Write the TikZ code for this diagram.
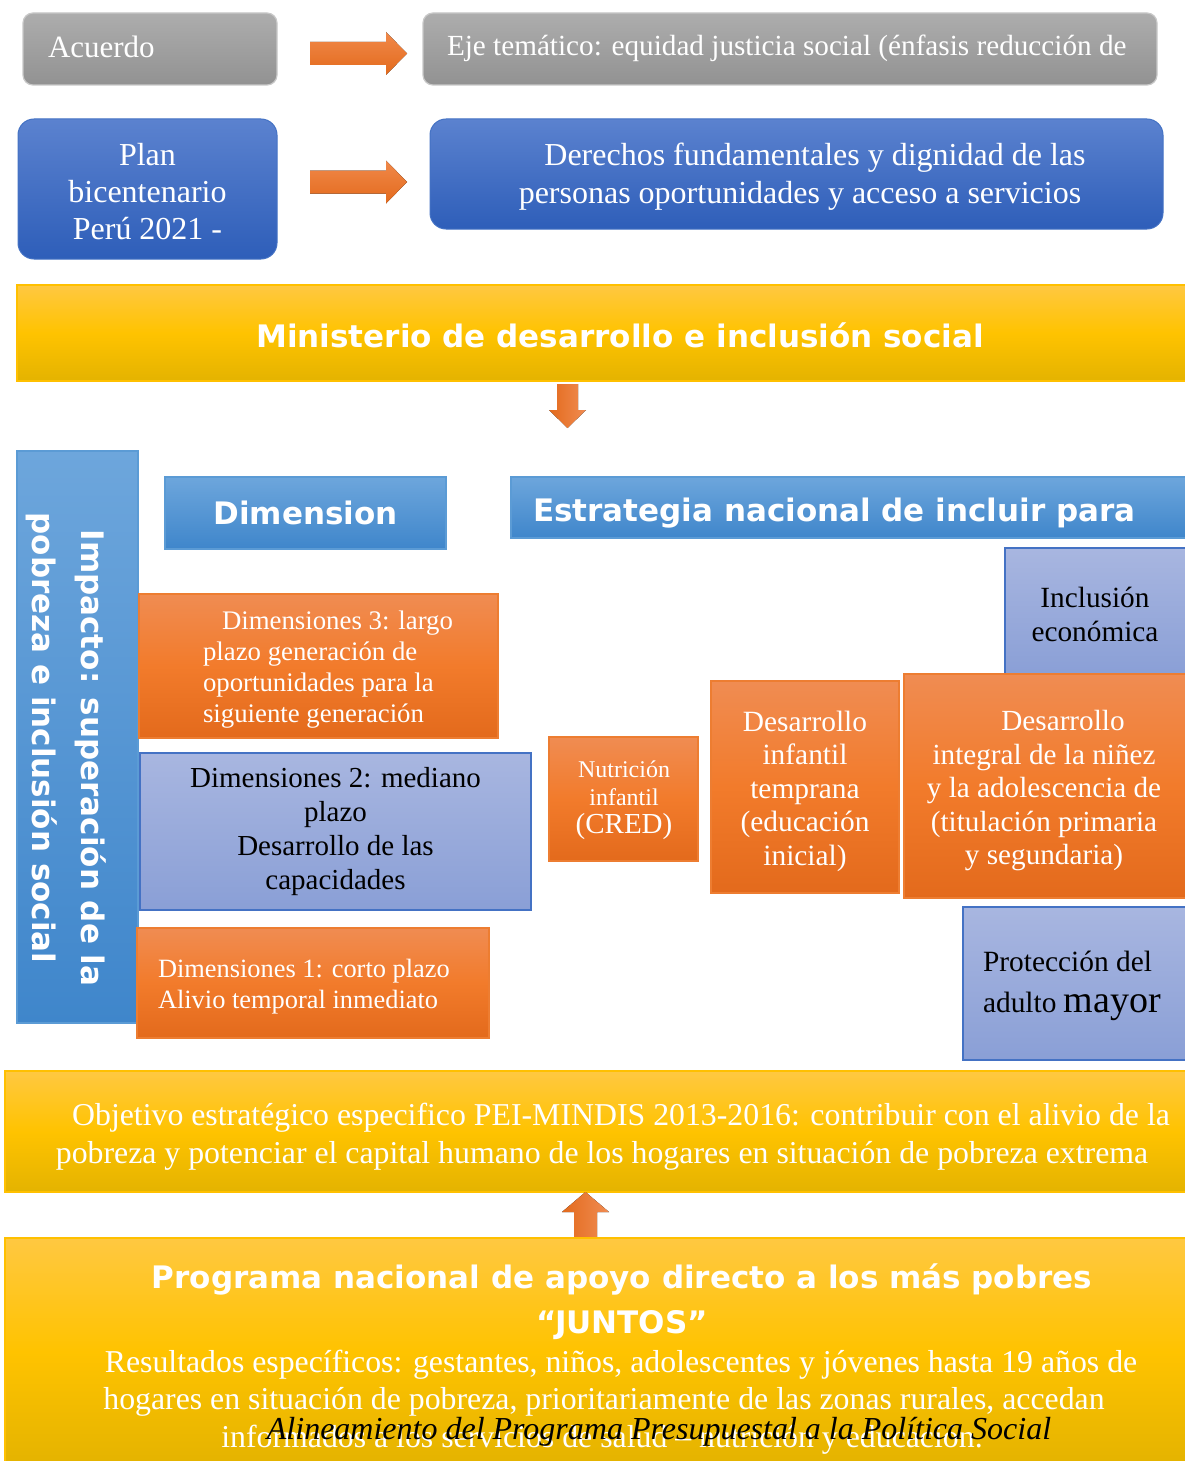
\documentclass[tikz,border=0pt]{standalone}
\usepackage{fontspec}
\setmainfont{Liberation Serif}
\newfontfamily\hdfont{DejaVu Sans}
\definecolor{grayT}{HTML}{ADADAD}
\definecolor{grayB}{HTML}{929292}
\definecolor{grayD}{HTML}{C8C8C8}
\definecolor{blueT}{HTML}{5B82CF}
\definecolor{blueB}{HTML}{2E5EB9}
\definecolor{blueD}{HTML}{4472C4}
\definecolor{yelT}{HTML}{FFC841}
\definecolor{yelM}{HTML}{FFC300}
\definecolor{yelB}{HTML}{E4B300}
\definecolor{yelD}{HTML}{FFC000}
\definecolor{skyT}{HTML}{6DA6DC}
\definecolor{skyB}{HTML}{3F86CB}
\definecolor{skyD}{HTML}{5B9BD5}
\definecolor{orT}{HTML}{F08C52}
\definecolor{orM}{HTML}{F27B2B}
\definecolor{orB}{HTML}{E36A1C}
\definecolor{orD}{HTML}{ED7D31}
\definecolor{lavT}{HTML}{A8B6E0}
\definecolor{lavB}{HTML}{8A9FD6}
\tikzset{
  every node/.style={inner sep=0pt, outer sep=0pt},
  graybox/.style={draw=grayD, line width=1.2pt, rounded corners=10pt, top color=grayT, bottom color=grayB},
  bluebox/.style={draw=blueD, line width=1pt, rounded corners=16pt, top color=blueT, bottom color=blueB},
  yelbox/.style={draw=yelD, line width=1.5pt, top color=yelT, bottom color=yelB, middle color=yelM},
  skybox/.style={draw=skyD, line width=1.5pt, top color=skyT, bottom color=skyB},
  orbox/.style={draw=orD, line width=1.5pt, top color=orT, bottom color=orB, middle color=orM},
  lavbox/.style={draw=blueD, line width=1.5pt, top color=lavT, bottom color=lavB},
  barrow/.style={top color=orT!80!orM, bottom color=orB, draw=none},
  wtxt/.style={text=white, font=\fontsize{32}{37}\selectfont},
  hdtxt/.style={text=white, font=\hdfont\bfseries\fontsize{31}{45}\selectfont},
}
\begin{document}
\begin{tikzpicture}[x=1pt, y=-1pt]
\useasboundingbox (0,0) rectangle (1184,1461);
\fill[white] (0,0) rectangle (1184,1461);

% top rows
\node[graybox, minimum width=254, minimum height=72] (acuerdo) at (150,49) {};
\node[wtxt, anchor=west, font=\fontsize{31}{37}\selectfont] (acuerdotxt) at (48,47) {Acuerdo};
\node[graybox, minimum width=734, minimum height=72] (eje) at (790,49) {};
\node[wtxt, anchor=west, font=\fontsize{29.2}{33}\selectfont] (ejetxt) at (447,48) {Eje temático: equidad justicia social (énfasis reducción de};

\node[bluebox, minimum width=259, minimum height=140] (plan) at (147.5,189) {};
\node[wtxt, align=center] (plantxt) at (147.5,192) {Plan\\bicentenario\\Perú 2021 -};
\node[bluebox, minimum width=733, minimum height=110] (derechos) at (796.5,174) {};
\node[wtxt, align=center, font=\fontsize{32}{38}\selectfont] (derechostxt) at (800,177) {\hspace*{30pt}Derechos fundamentales y dignidad de las\\personas oportunidades y acceso a servicios};

% block arrows right
\fill[barrow] (310,42) -- (386,42) -- (386,32) -- (407,53.5) -- (386,75) -- (386,65) -- (310,65) -- cycle;
\fill[barrow] (310,170.5) -- (386,170.5) -- (386,160.5) -- (407,182) -- (386,203.5) -- (386,193.5) -- (310,193.5) -- cycle;

% ministerio
\node[yelbox, minimum width=1173, minimum height=96] (mides) at (603.5,333) {};
\node[hdtxt] (midestxt) at (620,335) {Ministerio de desarrollo e inclusión social};

% down arrow
\fill[left color=orB, right color=orT, draw=none] (557,384) -- (578,384) -- (578,410) -- (586,410) -- (567.5,428) -- (549,410) -- (557,410) -- cycle;

% impacto
\node[skybox, minimum width=121, minimum height=572] (impacto) at (77.5,737) {};
\node[hdtxt, rotate=-90, align=center, font=\hdfont\bfseries\fontsize{31}{49}\selectfont] (impactotxt) at (66,738) {\hspace*{40pt}Impacto: superación de la\\pobreza e inclusión social};

% headers
\node[skybox, minimum width=281, minimum height=72, hdtxt] (dimension) at (305.5,513) {Dimension};
\node[skybox, minimum width=677, minimum height=61] (estrategia) at (849.5,507.5) {};
\node[hdtxt, anchor=west] (estrategiatxt) at (533,513) {Estrategia nacional de incluir para};

% dimensiones
\node[orbox, minimum width=359, minimum height=144] (dim3) at (318.5,666) {};
\node[wtxt, anchor=west, align=left, font=\fontsize{26.8}{31}\selectfont] (dim3txt) at (203,670) {\hspace*{19pt}Dimensiones 3: largo\\plazo generación de\\oportunidades para la\\siguiente generación};
\node[lavbox, minimum width=391, minimum height=157, align=center, font=\fontsize{29}{34}\selectfont] (dim2) at (335.5,831.5) {Dimensiones 2: mediano\\plazo\\Desarrollo de las\\capacidades};
\node[orbox, minimum width=352, minimum height=110] (dim1) at (313,983) {};
\node[wtxt, anchor=west, align=left, font=\fontsize{26.4}{31}\selectfont] (dim1txt) at (158,987) {Dimensiones 1: corto plazo\\Alivio temporal inmediato};

% estrategia boxes
\node[lavbox, minimum width=183, minimum height=127] (inclusion) at (1096.5,611.5) {};
\node[align=center, font=\fontsize{29.3}{34}\selectfont] (inclusiontxt) at (1095,614.5) {Inclusión\\económica};
\node[orbox, minimum width=149, minimum height=124] (nutricion) at (623.5,799) {};
\node[wtxt, align=center, font=\fontsize{24}{28}\selectfont] (nutriciontxt) at (624,800) {Nutrición\\infantil\\{\fontsize{29}{31}\selectfont (CRED)}};
\node[orbox, minimum width=188, minimum height=212] (desinf) at (805,787) {};
\node[wtxt, align=center, font=\fontsize{29.4}{33.5}\selectfont] (desinftxt) at (805,791) {Desarrollo\\infantil\\temprana\\(educación\\inicial)};
\node[orbox, minimum width=284, minimum height=224] (desint) at (1046,786) {};
\node[wtxt, align=center, font=\fontsize{29.2}{33.5}\selectfont] (desinttxt) at (1044,791) {\hspace*{38pt}Desarrollo\\integral de la niñez\\y la adolescencia de\\(titulación primaria\\y segundaria)};
\node[lavbox, minimum width=225, minimum height=153] (proteccion) at (1075.5,983.5) {};
\node[anchor=west, align=left, font=\fontsize{29.4}{41}\selectfont] (protecciontxt) at (983,986) {Protección del\\adulto {\fontsize{38}{41}\selectfont mayor}};

% objetivo
\node[yelbox, minimum width=1183, minimum height=121] (objetivo) at (596.5,1131.5) {};
\node[wtxt, align=center, font=\fontsize{31.8}{38}\selectfont] (objetivotxt) at (612,1137) {\hspace*{18pt}Objetivo estratégico especifico PEI-MINDIS 2013-2016: contribuir con el alivio de la\\pobreza y potenciar el capital humano de los hogares en situación de pobreza extrema\hspace*{20pt}};

% up arrow
\fill[left color=orB, right color=orT, draw=none] (574,1238) -- (574,1212) -- (562,1212) -- (585.5,1192) -- (609,1212) -- (597,1212) -- (597,1238) -- cycle;

% programa
\node[yelbox, minimum width=1183, minimum height=227] (programa) at (596.5,1351.5) {};
\node[hdtxt, align=center] (programatxt) at (622,1302) {Programa nacional de apoyo directo a los más pobres\\“JUNTOS”};
\node[wtxt, align=center, font=\fontsize{31.8}{37.5}\selectfont] (resultados) at (612,1402) {\hspace*{18pt}Resultados específicos: gestantes, niños, adolescentes y jóvenes hasta 19 años de\\hogares en situación de pobreza, prioritariamente de las zonas rurales, accedan\hspace*{16pt}\null\\informados a los servicios de salud – nutrición y educación.\hspace*{20pt}};
\node[font=\itshape\fontsize{32}{34}\selectfont] (alineamiento) at (659,1432) {Alineamiento del Programa Presupuestal a la Política Social};
\end{tikzpicture}
\end{document}
